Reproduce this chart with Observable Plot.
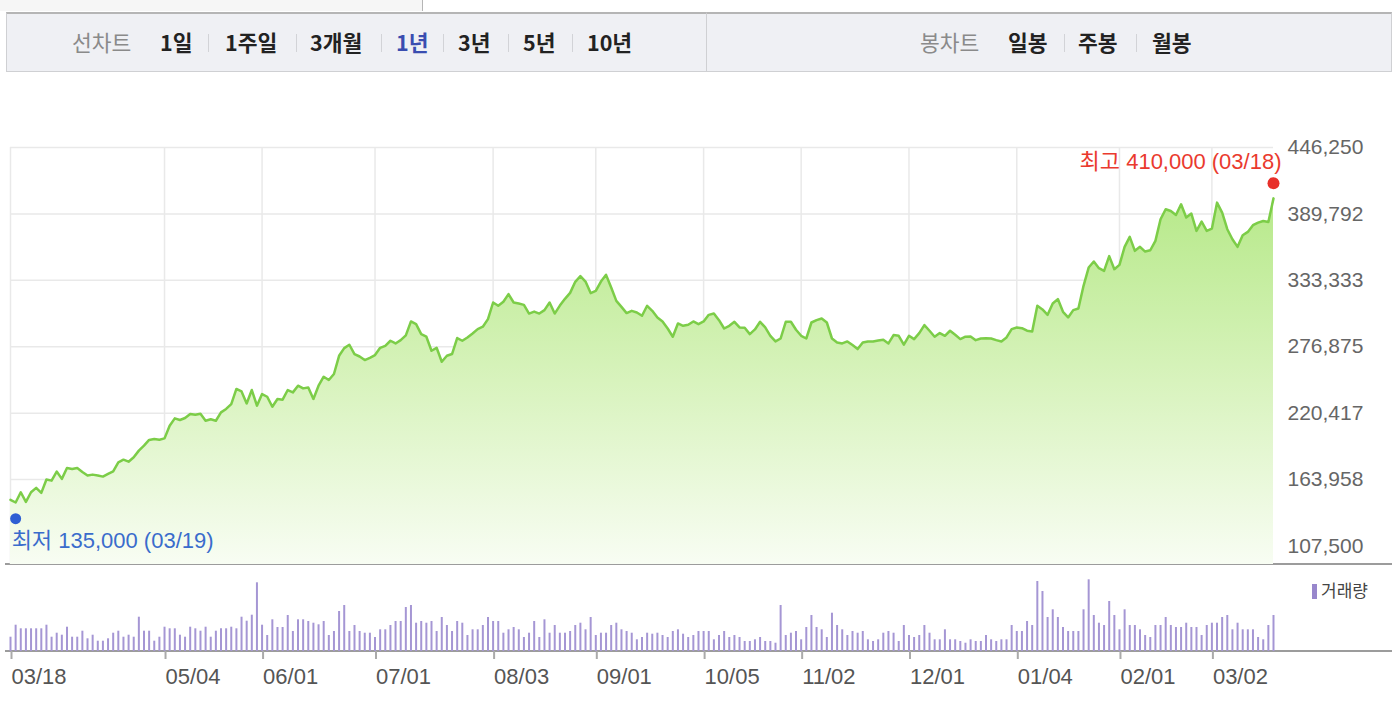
<!DOCTYPE html>
<html>
<head>
<meta charset="utf-8">
<script src="https://cdn.jsdelivr.net/npm/d3@7"></script>
<script src="https://cdn.jsdelivr.net/npm/@observablehq/plot@0.6"></script>
<style>
html,body{margin:0;padding:0;background:#fff;width:1392px;height:702px;overflow:hidden;font-family:"Noto Sans CJK KR","Noto Sans",sans-serif;}
#wrap{position:relative;width:1392px;height:702px;}
.abs{position:absolute;}
.tab{left:0;top:0;width:422px;height:11px;background:#f6f6f6;border-right:1px solid #b5b5b5;}
.box{top:12px;height:57px;background:#eff0f4;border:1px solid #cfd0d3;border-top:2px solid #b5b5b5;box-sizing:content-box;}
.item{position:absolute;top:12px;height:60px;line-height:60px;font-size:21.5px;font-weight:700;color:#222;white-space:nowrap;}
.lbl{font-weight:400;color:#8a8a8a;}
.sel{color:#3a4db0;}
.sep{position:absolute;top:34px;width:1px;height:18px;background:#d2d3d7;}
.rule{position:absolute;left:5px;width:1387px;height:2px;background:#9c9c9c;}
#price,#vol{position:absolute;left:0;}
#price{top:100px;}
#vol{top:566px;}
.legend{position:absolute;left:1312px;top:581px;height:18px;font-size:17px;line-height:18px;color:#444;white-space:nowrap;}
.legend i{display:inline-block;width:5px;height:15px;background:#9887cc;vertical-align:-2px;margin-right:4px;}
</style>
</head>
<body>
<div id="wrap">
  <div class="abs tab"></div>
  <div class="abs box" style="left:6px;width:699px;"></div>
  <div class="abs box" style="left:706px;width:684px;"></div>

  <div class="item lbl" style="left:72px;">선차트</div>
  <div class="item" style="left:160px;">1일</div>
  <div class="sep" style="left:208px;"></div>
  <div class="item" style="left:225px;">1주일</div>
  <div class="sep" style="left:296px;"></div>
  <div class="item" style="left:310px;">3개월</div>
  <div class="sep" style="left:381px;"></div>
  <div class="item sel" style="left:396px;">1년</div>
  <div class="sep" style="left:443px;"></div>
  <div class="item" style="left:458px;">3년</div>
  <div class="sep" style="left:508px;"></div>
  <div class="item" style="left:523px;">5년</div>
  <div class="sep" style="left:572px;"></div>
  <div class="item" style="left:587px;">10년</div>

  <div class="item lbl" style="left:920px;">봉차트</div>
  <div class="item" style="left:1008px;">일봉</div>
  <div class="sep" style="left:1064px;"></div>
  <div class="item" style="left:1078px;">주봉</div>
  <div class="sep" style="left:1136px;"></div>
  <div class="item" style="left:1152px;">월봉</div>

  <div class="rule" style="top:563px;"></div>
  <div class="rule" style="top:650px;"></div>

  <div id="price"></div>
  <div id="vol"></div>
  <div class="legend"><i></i>거래량</div>
</div>
<script>
// ---- data (one point per trading day, 03/18 → 03/18) ----
const prices = [
  146700,144500,153200,145000,153200,156900,152700,164000,163100,170800,
  164600,173900,173000,173900,170500,167400,168200,167400,166500,168800,
  171000,178700,180900,179200,182900,188600,192800,197700,198500,197900,
  199000,209800,216000,214600,216300,219700,219100,220000,214000,215200,
  214000,221100,224000,228200,241000,238900,228700,240100,226800,236700,
  234400,225900,232500,231900,240100,238100,243800,241500,242300,232500,
  243800,251400,248600,253700,269200,275700,278600,270700,268600,265600,
  267500,269800,276000,277700,282000,279700,282500,286500,298400,296100,
  287600,285400,273500,276000,264100,269200,270700,284300,282000,284800,
  288200,291900,293900,300400,314500,311700,315100,321600,314500,313600,
  312500,305100,306800,305100,308000,314500,305100,311900,317600,322700,
  332100,336900,332300,322500,324400,332300,338000,327200,315900,310800,
  305500,307400,306000,303200,311700,307400,301800,298400,292400,285400,
  296700,294700,295600,298400,296100,298400,304000,305100,299500,292400,
  294700,298100,293300,293000,287600,291600,298100,293300,286200,281400,
  283900,298100,298100,291300,286200,283900,297500,299500,300900,297500,
  283900,280500,279700,281400,278300,274900,280500,281400,281400,282200,
  282800,279700,286800,286200,278600,286200,283400,288500,295300,290500,
  285400,288500,286200,290500,287100,283400,285400,285600,282500,283900,
  284200,283900,282500,281400,284800,291900,293300,292700,290500,289900,
  311700,308600,304000,313600,317400,306600,301800,308000,309400,328700,
  344200,349300,343700,341400,353900,342800,346500,361800,370300,358400,
  361800,357800,358900,366900,385300,393800,392300,388900,398000,386700,
  390100,375400,383300,375400,377300,399400,390900,376800,368300,361800,
  371700,374500,380200,382400,383800,383000,403000
];
const volumes = [
  143,263,227,227,227,227,227,263,143,183,
  163,243,143,143,203,127,163,103,103,127,
  183,203,143,163,143,343,203,203,103,143,
  243,227,227,163,143,243,227,203,243,143,
  203,227,227,243,227,343,303,363,687,263,
  160,317,240,240,360,200,317,317,300,283,
  267,300,160,200,400,460,200,260,200,183,
  183,140,217,217,260,300,300,440,460,283,
  300,283,300,200,340,260,200,300,283,160,
  217,217,260,340,300,300,183,217,240,217,
  140,183,300,140,317,183,260,183,183,200,
  260,283,217,340,160,183,183,260,283,217,
  200,183,117,140,183,173,183,160,140,200,
  217,173,140,160,200,200,200,117,160,200,
  140,160,140,100,100,117,140,100,100,83,
  460,160,183,200,117,240,360,240,217,140,
  383,260,217,160,200,183,200,117,100,117,
  183,200,183,100,260,160,140,160,260,183,
  117,117,217,117,117,100,83,117,100,100,
  160,117,100,117,117,260,200,200,300,260,
  700,600,340,417,340,240,200,200,200,417,
  717,360,283,260,500,360,217,417,260,260,
  217,160,140,260,260,340,260,240,240,283,
  240,240,160,260,283,283,340,360,217,283,
  217,217,217,140,117,260,360
];
const tickIdx    = [0, 30, 49, 71, 94, 114, 135, 154, 175, 196, 216, 234];
const tickLabels = ["03/18","05/04","06/01","07/01","08/03","09/01","10/05","11/02","12/01","01/04","02/01","03/02"];
const yTicks = [107500, 163958, 220417, 276875, 333333, 389792, 446250];
const yMin = 91800;
const volMax = 800;
const highMark = [{idx: 246, value: 410000, label: "최고 410,000 (03/18)"}];
const lowMark  = [{idx: 1,   value: 135000, label: "최저 135,000 (03/19)"}];

const data = prices.map((p, i) => ({i, price: p, vol: volumes[i]}));
const labelOf = new Map(tickIdx.map((d, k) => [d, tickLabels[k]]));
const FONT = "'Liberation Sans','Noto Sans CJK KR',sans-serif";
const W = 1392;

const price = Plot.plot({
  width: W, height: 470,
  marginLeft: 10, marginRight: 119, marginTop: 47, marginBottom: 6,
  x: {type: "linear", domain: [0, prices.length - 1], axis: null},
  y: {domain: [yMin, yTicks[yTicks.length - 1]]},
  style: {background: "transparent", overflow: "visible", fontFamily: FONT},
  marks: [
    Plot.gridX(tickIdx, {stroke: "#e9e9e9", strokeOpacity: 1, strokeWidth: 1.5}),
    Plot.gridY(yTicks, {stroke: "#e9e9e9", strokeOpacity: 1, strokeWidth: 1.5}),
    Plot.areaY(data, {x: "i", y1: yMin, y2: "price", fill: "url(#priceFill)"}),
    Plot.lineY(data, {x: "i", y: "price", stroke: "#7ccd48", strokeWidth: 2.5}),
    Plot.axisY(yTicks, {anchor: "right", label: null, tickSize: 0, tickPadding: 14, tickFormat: d3.format(","), fontSize: 21, fill: "#666"}),
    Plot.dot(highMark, {x: "idx", y: "value", r: 6, fill: "#e8302a", dy: -7}),
    Plot.text(highMark, {x: "idx", y: "value", text: "label", textAnchor: "end", dx: 8, dy: -28, fill: "#ea3a2e", fontSize: 22}),
    Plot.dot(lowMark, {x: "idx", y: "value", r: 5.5, fill: "#2d5fd3", dy: 5}),
    Plot.text(lowMark, {x: "idx", y: "value", text: "label", textAnchor: "start", dx: -4, dy: 27, fill: "#3a6ccc", fontSize: 22})
  ]
});
// gradient definition for the area fill
(function () {
  const ns = "http://www.w3.org/2000/svg";
  const svg = price.tagName.toLowerCase() === "svg" ? price : price.querySelector("svg");
  const defs = document.createElementNS(ns, "defs");
  const lg = document.createElementNS(ns, "linearGradient");
  lg.setAttribute("id", "priceFill");
  lg.setAttribute("x1", "0"); lg.setAttribute("y1", "0");
  lg.setAttribute("x2", "0"); lg.setAttribute("y2", "1");
  [["0", "#b7e98a"], ["0.5", "#d8f3bd"], ["1", "#f8fdf3"]].forEach(([o, c]) => {
    const s = document.createElementNS(ns, "stop");
    s.setAttribute("offset", o); s.setAttribute("stop-color", c);
    lg.appendChild(s);
  });
  defs.appendChild(lg);
  svg.insertBefore(defs, svg.firstChild);
})();
document.getElementById("price").appendChild(price);

const vol = Plot.plot({
  width: W, height: 136,
  marginLeft: 10, marginRight: 119, marginTop: 5, marginBottom: 51,
  x: {type: "linear", domain: [0, prices.length - 1]},
  y: {domain: [0, volMax], axis: null},
  style: {background: "transparent", overflow: "visible", fontFamily: FONT},
  marks: [
    Plot.ruleX(data, {x: "i", y: "vol", stroke: "#a596d4", strokeWidth: 2}),
    Plot.axisX(tickIdx, {label: null, tickSize: 8, tickPadding: 9, tickFormat: d => labelOf.get(d), textAnchor: "start", dx: 1, fontSize: 22, stroke: "#aaa", strokeWidth: 2, fill: "#555"})
  ]
});
document.getElementById("vol").appendChild(vol);
</script>
</body>
</html>
